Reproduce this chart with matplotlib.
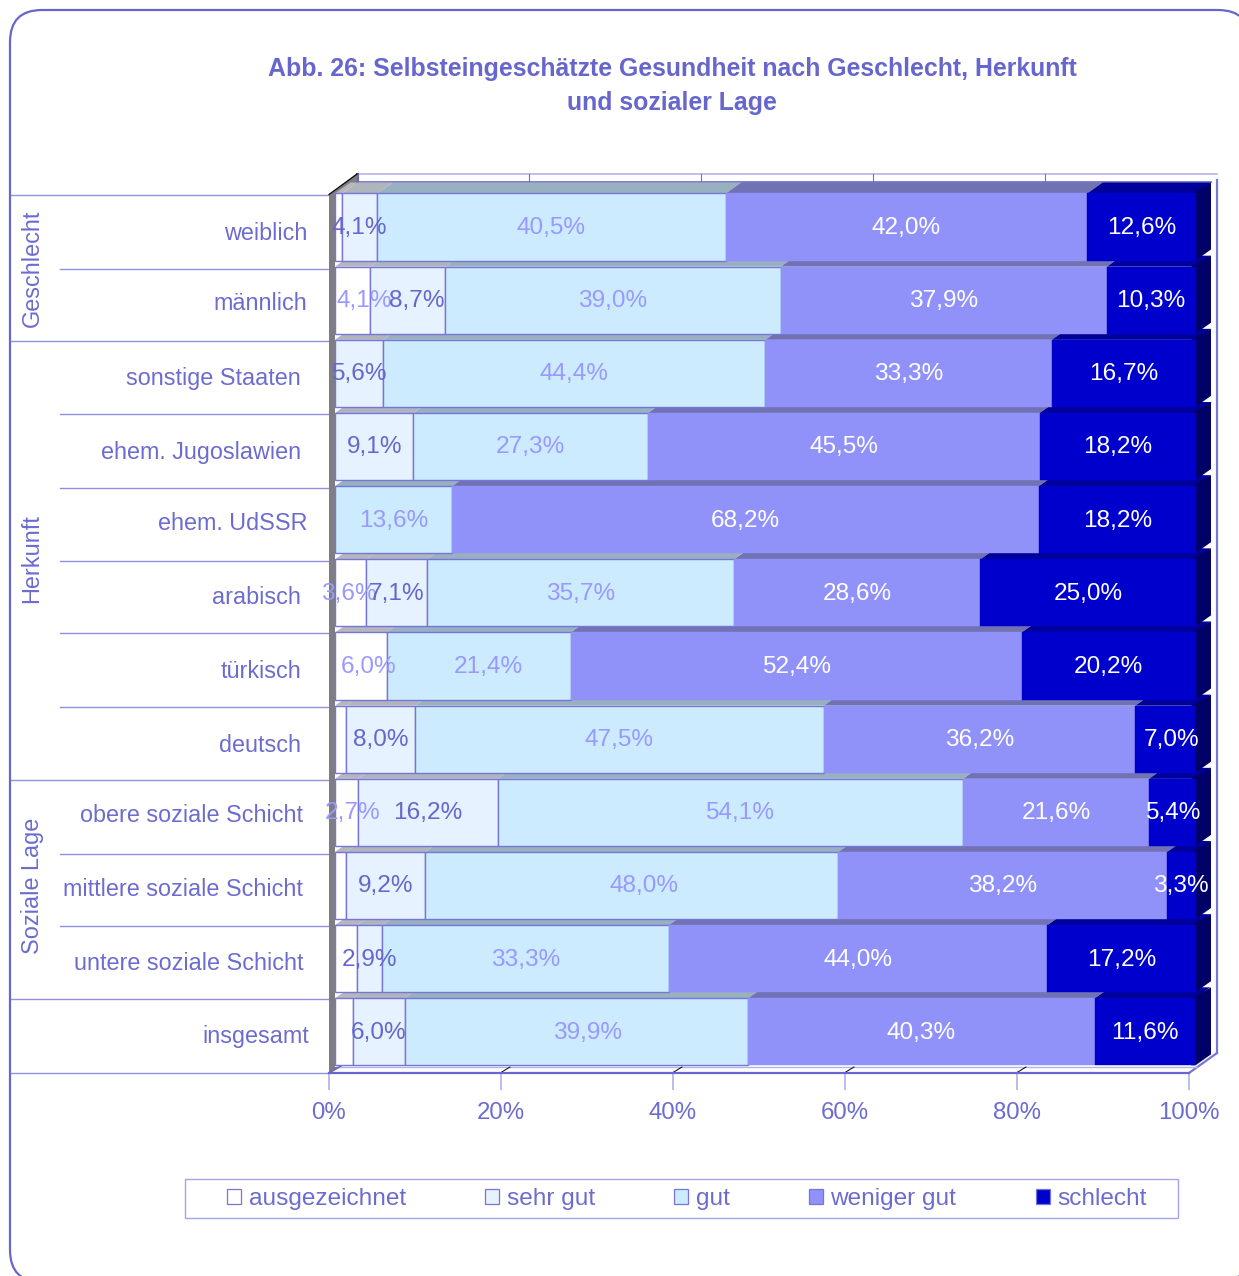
import matplotlib
matplotlib.use("Agg")
import matplotlib.pyplot as plt
from matplotlib.patches import FancyBboxPatch, Rectangle, Polygon, Patch

plt.rcParams['font.family'] = ['Liberation Sans', 'DejaVu Sans']

W, H = 1239, 1276

categories = ["weiblich", "männlich", "sonstige Staaten", "ehem. Jugoslawien", "ehem. UdSSR",
              "arabisch", "türkisch", "deutsch", "obere soziale Schicht", "mittlere soziale Schicht",
              "untere soziale Schicht", "insgesamt"]
series_names = ["ausgezeichnet", "sehr gut", "gut", "weniger gut", "schlecht"]
ausgezeichnet = [0.8, 4.1, 0.0, 0.0, 0.0, 3.6, 6.0, 1.3, 2.7, 1.3, 2.6, 2.1]
sehr_gut = [4.1, 8.7, 5.6, 9.1, 0.0, 7.1, 0.0, 8.0, 16.2, 9.2, 2.9, 6.0]
gut = [40.5, 39.0, 44.4, 27.3, 13.6, 35.7, 21.4, 47.5, 54.1, 48.0, 33.3, 39.9]
weniger_gut = [42.0, 37.9, 33.3, 45.5, 68.2, 28.6, 52.4, 36.2, 21.6, 38.2, 44.0, 40.3]
schlecht = [12.6, 10.3, 16.7, 18.2, 18.2, 25.0, 20.2, 7.0, 5.4, 3.3, 17.2, 11.6]
series = [ausgezeichnet, sehr_gut, gut, weniger_gut, schlecht]
min_label_value = 2.7

groups = ["Geschlecht", "Herkunft", "Soziale Lage"]
x_ticks = [0, 20, 40, 60, 80, 100]
title = "Abb. 26: Selbsteingeschätzte Gesundheit nach Geschlecht, Herkunft\nund sozialer Lage"

# style
face = ["#FFFFFF", "#E6F2FF", "#CCEBFF", "#9092FA", "#0000CC"]
top_face = ["#B6B6BC", "#B0B4BC", "#98B0C0", "#7072B4", "#00009A"]
label_col = ["#9999FF", "#6666CC", "#9999FF", "#FFFFFF", "#FFFFFF"]
INK = "#6666CC"
TXT = "#6C6CD0"
LINE = "#9090E0"
FS_CAT = 16.8
FS_VAL = 17.6

# label nudges in pixels, (row, series): dx
label_nudge = {(1, 0): 12, (1, 1): 9, (5, 0): -2, (6, 0): 8, (8, 0): 6, (8, 2): 9, (9, 2): 12,
               (11, 2): 11, (6, 2): 10, (7, 4): 6}

fig = plt.figure(figsize=(W / 100, H / 100), dpi=100)


def axes_px(x0, y0, x1, y1, **kw):
    return fig.add_axes([x0 / W, 1 - y1 / H, (x1 - x0) / W, (y1 - y0) / H], **kw)


# pixel overlay for frame, wall, separators
deco = axes_px(0, 0, W, H)
deco.set_xlim(0, W)
deco.set_ylim(H, 0)
deco.axis("off")
deco.add_patch(FancyBboxPatch((10, 10), 1240, 1272, boxstyle="round,pad=0,rounding_size=32",
                              fc="white", ec=INK, lw=1.6, zorder=1))

# back wall / floor
deco.plot([357, 1217], [174, 174], color="#B4B4E8", lw=1.2, zorder=2)
deco.plot([357, 1211], [182, 182], color=INK, lw=1.2, zorder=2)
deco.plot([357, 357], [174, 182], color=INK, lw=2.2, zorder=2)
deco.plot([1217, 1217], [180, 1053], color="#7878D4", lw=1.6, zorder=2)
deco.plot([1189, 1217], [1073, 1053], color="#7878D4", lw=1.6, zorder=2)
deco.plot([340, 1197], [1066.5, 1066.5], color="#B4B4E8", lw=1.0, zorder=2)
for k in range(1, 5):
    deco.plot([357 + 172 * k] * 2, [174, 182], color="#7070B0", lw=0.8, zorder=2)
    deco.plot([329 + 172 * k, 338 + 172 * k], [1072.5, 1067], color="black", lw=0.7, zorder=2)

# group separators and rows
row_lines = [195, 268.5, 341, 414, 488, 561, 633, 707, 780, 854, 926, 999, 1073]
long_lines = {195, 341, 780, 999, 1073}
for y in row_lines:
    deco.plot([11 if y in long_lines else 60, 329], [y, y], color=LINE, lw=1.0, zorder=2)

cat_right = [307, 307, 301, 301, 307, 301, 301, 301, 303, 303, 303, 309]
cat_y = [233, 304, 378, 452, 524, 597, 671, 745, 816, 890, 964, 1037]
for name, xr, y in zip(categories, cat_right, cat_y):
    deco.text(xr, y, name, ha="right", va="center", color=TXT, fontsize=FS_CAT, zorder=3)
for name, y in zip(groups, [268, 559, 886]):
    deco.text(32, y, name, rotation=90, ha="center", va="center", color=TXT, fontsize=16.9, zorder=3)

deco.text(672, 86, title, ha="center", va="center", color=INK, fontsize=17.9,
          fontweight="bold", linespacing=1.5, zorder=3)

# legend box
deco.add_patch(Rectangle((185, 1179), 993, 39, fc="white", ec="#A4A4EA", lw=1.0, zorder=2))

# floor axis with the real percent scale
base = axes_px(329, 195, 1189, 1073)
base.patch.set_alpha(0)
base.set_xlim(0, 100)
base.set_ylim(1, 0)
base.set_xticks(x_ticks)
base.set_xticklabels([f"{t}%" for t in x_ticks], fontsize=17.3, color=TXT)
base.tick_params(axis="x", length=12.5, color="#A8A8EC", width=1.1, pad=8.5)
base.set_yticks([])
for s in ["top", "right", "left"]:
    base.spines[s].set_visible(False)
base.spines["bottom"].set_color(INK)
base.spines["bottom"].set_linewidth(1.6)

# left wall
deco.add_patch(Polygon([(329, 195), (357, 174), (357, 182), (335, 197), (335, 1067), (340, 1066.5),
                        (329, 1073)], fc="#7E7E82", ec="none", zorder=2.5))
deco.plot([329, 357], [194.5, 174], color="black", lw=0.9, zorder=2.6)
deco.plot([329, 341], [1073, 1066], color=INK, lw=1.2, zorder=2.6)

# bars
ROW = 878 / 12
BAR_L, BAR_R = 335, 1195.5
ax = axes_px(BAR_L, 227 - ROW / 2, BAR_R, 227 - ROW / 2 + 878)
ax.patch.set_alpha(0)
ax.axis("off")
ax.set_xlim(0, 100)
ax.set_ylim(11.5, -0.5)
h = 0.916
PX = (BAR_R - BAR_L) / 100
dx = 15.5 / PX
dy = 11 / ROW

ys = list(range(len(categories)))
lefts = [0.0] * len(categories)
for j, vals in enumerate(series):
    for i, v in enumerate(vals):
        if v <= 0:
            continue
        l = lefts[i]
        ytop = i - h / 2
        ax.add_patch(Polygon([(l, ytop), (l + dx, ytop - dy), (l + v + dx, ytop - dy), (l + v, ytop)],
                             fc=top_face[j], ec="none", zorder=2, clip_on=False))
        ax.barh(i, v, left=l, height=h, color=face[j], edgecolor="#7676DA" if j < 3 else face[j],
                linewidth=1.0 if j < 3 else 0.3, zorder=3, clip_on=False)
        if v >= min_label_value:
            nudge = label_nudge.get((i, j), 0) / PX
            ax.text(l + v / 2 + nudge, i + 1 / ROW, f"{v:.1f}%".replace(".", ","), ha="center", va="center",
                    color=label_col[j], fontsize=FS_VAL, zorder=6, clip_on=False)
        lefts[i] = l + v

for i in ys:
    r = 99.5
    ytop, ybot = i - h / 2, i + h / 2
    ax.add_patch(Polygon([(r, ytop), (100 + dx, ytop - dy), (100 + dx, ybot - dy), (100, ybot), (r, ybot)],
                         fc="#000066", ec="none", zorder=2.5, clip_on=False))

# legend
handles = [Patch(fc=c, ec="#7676DA", lw=0.9) for c in face]
leg = deco.legend(handles, series_names, ncol=5, frameon=False, fontsize=FS_VAL, labelcolor=TXT,
                  loc="center left", bbox_to_anchor=(227, 1199), bbox_transform=deco.transData,
                  borderpad=0, borderaxespad=0, handlelength=0.57, handleheight=0.57,
                  handletextpad=0.31, columnspacing=3.25)
leg.set_zorder(4)

fig.savefig("out.png", dpi=100)
